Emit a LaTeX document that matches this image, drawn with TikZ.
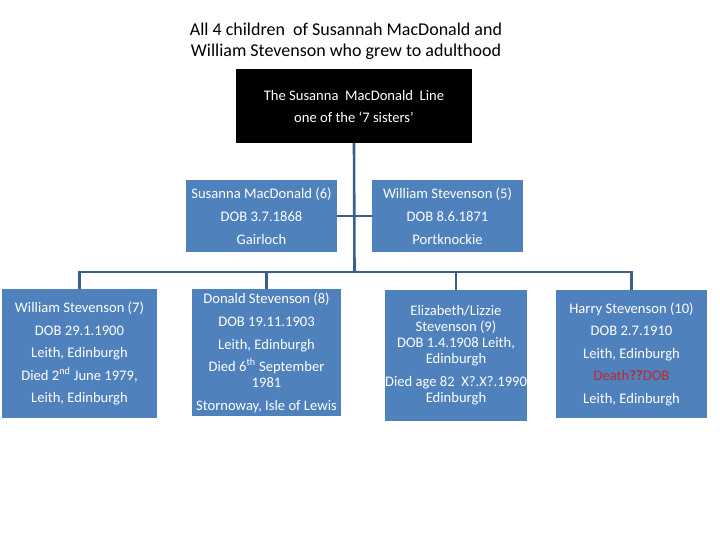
\documentclass[tikz,border=0pt]{standalone}
\usepackage{fontspec}
\setmainfont{Carlito}
\definecolor{boxblue}{RGB}{79,129,189}
\definecolor{linkblue}{RGB}{59,94,140}
\definecolor{deathred}{RGB}{192,40,45}
\tikzset{
  person/.style={fill=boxblue, text=white, align=center, inner sep=0pt,
    font=\fontsize{14.6}{16}\selectfont},
  link/.style={draw=linkblue, line width=2.6pt},
}
\begin{document}
\begin{tikzpicture}[x=1pt, y=-1pt]
  \useasboundingbox (0,0) rectangle (720,540);
  \node[align=center, font=\fontsize{18}{21}\selectfont] (title) at (346,41)
    {All 4 children\ \ of Susannah MacDonald and\\William Stevenson who grew to adulthood};
  \node[fill=black, text=white, align=center, font=\fontsize{14.6}{22}\selectfont,
    minimum width=236pt, minimum height=74pt] (line) at (354,106)
    {The Susanna\ \ MacDonald\ \ Line\\one of the `7 sisters'};
  % parents
  \node[person, minimum width=151pt, minimum height=72pt, font=\fontsize{14.6}{23}\selectfont] (mother) at (261.5,216)
    {Susanna MacDonald (6)\\DOB 3.7.1868\\Gairloch};
  \node[person, minimum width=151pt, minimum height=72pt, font=\fontsize{14.6}{23}\selectfont] (father) at (447.5,216)
    {William Stevenson (5)\\DOB 8.6.1871\\Portknockie};
  % children
  \node[person, minimum width=155pt, minimum height=129pt] (c7) at (79.5,353.5)
    {William Stevenson (7)\\[6.5pt]DOB 29.1.1900\\[6.5pt]Leith, Edinburgh\\[6.5pt]Died 2\textsuperscript{nd} June 1979,\\[6.5pt]Leith, Edinburgh};
  \node[person, minimum width=149pt, minimum height=127pt] (c8) at (266.5,352.5)
    {Donald Stevenson (8)\\[7pt]DOB 19.11.1903\\[7pt]Leith, Edinburgh\\[6pt]Died 6\textsuperscript{th} September\\1981\\[7pt]Stornoway, Isle of Lewis};
  \node[person, minimum width=142pt, minimum height=131pt] (c9) at (456,355.5)
    {Elizabeth/Lizzie\\Stevenson (9)\\DOB 1.4.1908 Leith,\\Edinburgh\\[7pt]Died age 82\ \ X?.X?.1990\\Edinburgh};
  \node[person, minimum width=151pt, minimum height=128pt] (c10) at (631.5,354)
    {Harry Stevenson (10)\\[6.5pt]DOB 2.7.1910\\[6.5pt]Leith, Edinburgh\\[6.5pt]\textcolor{deathred}{Death\textbf{??}DOB}\\[6.5pt]Leith, Edinburgh};
  % connectors
  \coordinate (bar) at (354.5,272);
  \draw[link] (line.south) -- (bar);
  \draw[link] (mother.east) -- (father.west);
  \draw[link] (c7.north) |- (bar) -| (c10.north);
  \draw[link] (c8.north) -- (c8.north |- bar);
  \draw[link] (c9.north) -- (c9.north |- bar);
\end{tikzpicture}
\end{document}
